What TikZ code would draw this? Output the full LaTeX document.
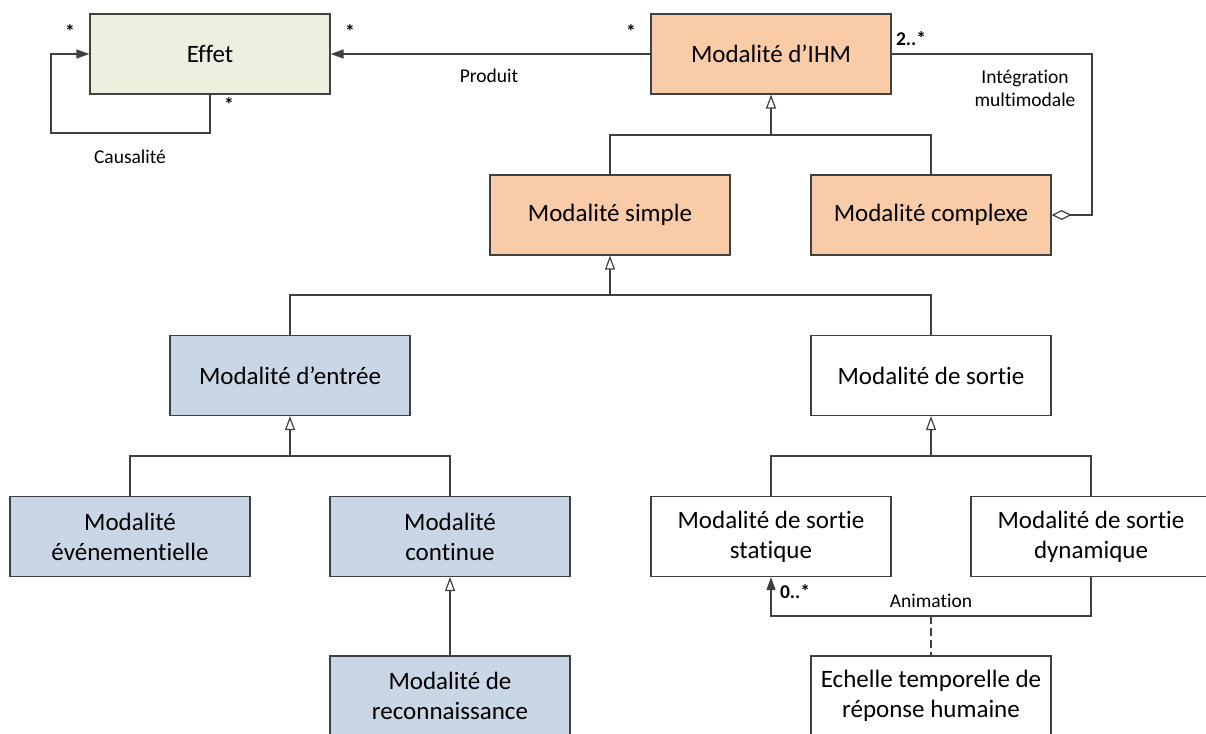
\documentclass[tikz,border=0pt]{standalone}
\usepackage{fontspec}
\setmainfont{Carlito}[Ligatures={NoCommon,NoRare}]
\usetikzlibrary{arrows.meta}
\definecolor{orangefill}{HTML}{F9CBA7}
\definecolor{bluefill}{HTML}{C9D6E6}
\definecolor{greenfill}{HTML}{EBF1DE}
\definecolor{boxline}{HTML}{404040}
\definecolor{conline}{HTML}{404040}
\tikzset{
  x=1pt, y=-1pt,
  umlbox/.style={draw=boxline, line width=1.2pt, minimum width=240pt, minimum height=80pt,
    inner sep=0pt, align=center, font=\fontsize{25}{30}\selectfont},
  orangebox/.style={umlbox, fill=orangefill},
  bluebox/.style={umlbox, fill=bluefill},
  greenbox/.style={umlbox, fill=greenfill},
  whitebox/.style={umlbox, fill=white},
  conn/.style={draw=conline, line width=1.3pt},
  gen/.style={conn, -{Triangle[open, length=14pt, width=10pt, line width=1.2pt]}},
  assoc/.style={conn, -{Triangle[length=13pt, width=9pt]}},
  aggr/.style={conn, -{Diamond[open, length=20pt, width=10pt, line width=1.2pt]}},
  lbl/.style={inner sep=0pt, align=center, font=\fontsize{19.5}{23}\selectfont},
  mult/.style={inner sep=0pt, font=\fontsize{19.5}{23}\selectfont\bfseries},
}
\begin{document}
\begin{tikzpicture}
\useasboundingbox (0,0) rectangle (1206,733);
\clip (0,0) rectangle (1206,733);
% boxes
\node[greenbox]  (effet)    at (210,54)   {Effet};
\node[orangebox] (ihm)      at (771,54)   {Modalité d’IHM};
\node[orangebox] (simple)   at (610,215)  {Modalité simple};
\node[orangebox] (complexe) at (931,215)  {Modalité complexe};
\node[bluebox]   (entree)   at (290,375.5)  {Modalité d’entrée};
\node[whitebox]  (sortie)   at (931,375.5)  {Modalité de sortie};
\node[bluebox]   (even)     at (130,536.5)  {Modalité\\événementielle};
\node[bluebox]   (cont)     at (450,536.5)  {Modalité\\continue};
\node[whitebox]  (stat)     at (771,536.5)  {Modalité de sortie\\statique};
\node[whitebox]  (dyn)      at (1091,536.5) {Modalité de sortie\\dynamique};
\node[bluebox]   (recon)    at (450,696)  {Modalité de\\reconnaissance};
\node[whitebox]  (echelle)  at (931,696)  {Echelle temporelle de\\réponse humaine};
% bus coordinates
\coordinate (cl)  at (51,133);
\coordinate (ci)  at (1092,54);
\coordinate (b1)  at (771,135);
\coordinate (b2)  at (610,295);
\coordinate (b3)  at (290,456);
\coordinate (b4)  at (931,456);
\coordinate (b5)  at (931,616);
% Causalité self loop
\draw[assoc] (effet.south) |- (cl) |- (effet.west);
% Produit
\draw[assoc] (ihm.west) -- (effet.east);
% Intégration multimodale
\draw[aggr] (ihm.east) -- (ci) |- (complexe.east);
% generalisations
\draw[conn] (simple.north) |- (b1) -| (complexe.north);
\draw[gen] (b1) -- (ihm.south);
\draw[conn] (entree.north) |- (b2) -| (sortie.north);
\draw[gen] (b2) -- (simple.south);
\draw[conn] (even.north) |- (b3) -| (cont.north);
\draw[gen] (b3) -- (entree.south);
\draw[conn] (stat.north) |- (b4) -| (dyn.north);
\draw[gen] (b4) -- (sortie.south);
\draw[gen] (recon.north) -- (cont.south);
% Animation
\draw[assoc] (dyn.south) |- (b5) -| (stat.south);
\draw[conn, dash pattern=on 8pt off 4pt] (b5) -- (echelle.north);
% labels
\node[mult] (m1) at (70,32)  {*};
\node[mult] (m2) at (350,32) {*};
\node[mult] (m3) at (229,105) {*};
\node[mult] (m4) at (631,32) {*};
\node[mult] (m5) at (911,39) {2..*};
\node[mult] (m6) at (795,592) {0..*};
\node[lbl] (causal) at (130,157) {Causalité};
\node[lbl] (produit) at (489,76) {Produit};
\node[lbl] (integ) at (1025,88) {Intégration\\multimodale};
\node[lbl] (anim) at (931,601) {Animation};
\end{tikzpicture}
\end{document}
